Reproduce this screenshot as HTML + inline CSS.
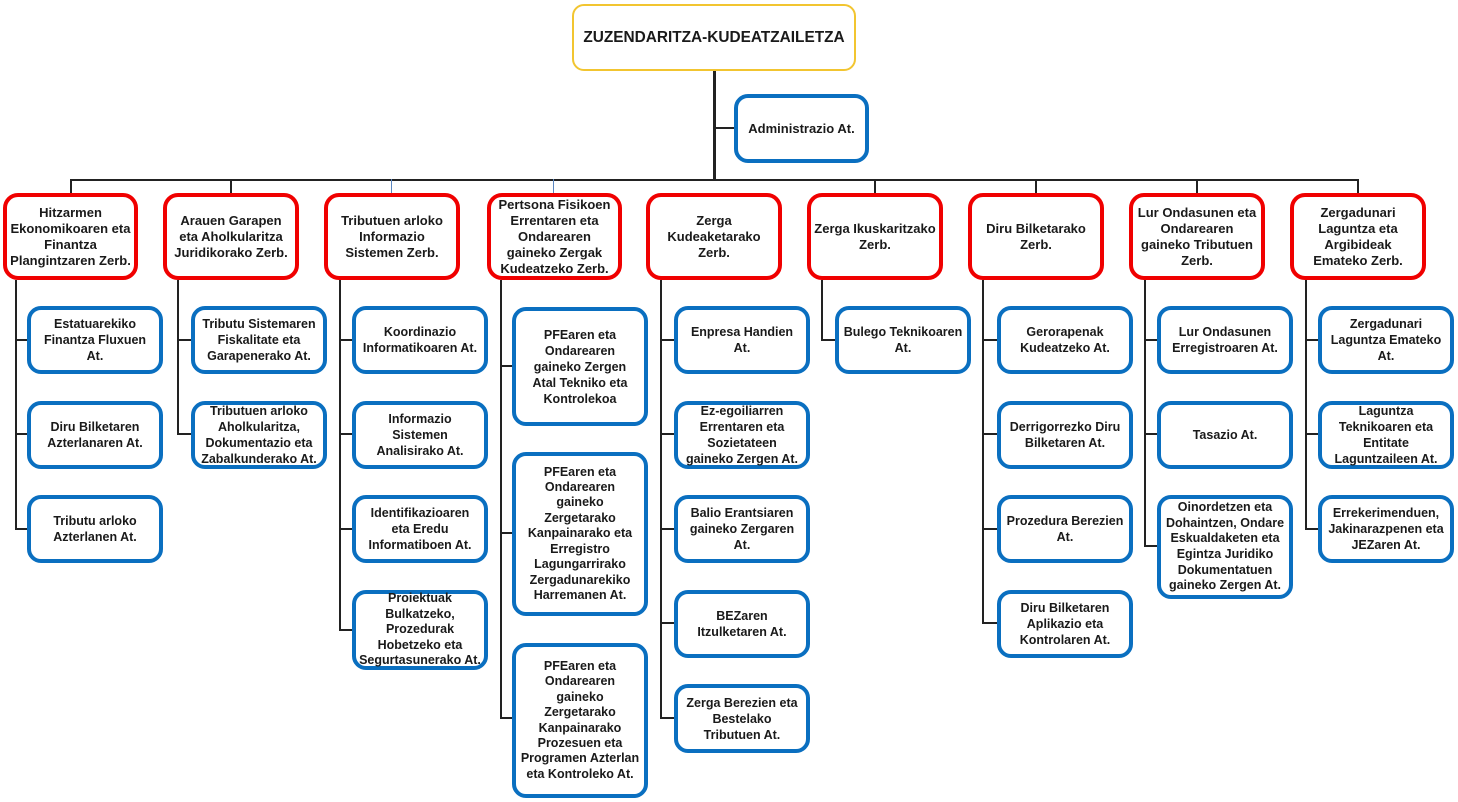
<!DOCTYPE html>
<html><head><meta charset="utf-8">
<style>
html,body{margin:0;padding:0;background:#fff;}
body{width:1458px;height:802px;position:relative;overflow:hidden;font-family:"Liberation Sans",Arial,sans-serif;font-weight:bold;color:#1a1a1a;}
.b{position:absolute;box-sizing:border-box;display:flex;align-items:center;justify-content:center;text-align:center;white-space:nowrap;background:#fff;}
.r{border:4px solid #f00000;border-radius:15px;font-size:13px;line-height:16px;}
.u{border:4px solid #0a6fc0;border-radius:14px;font-size:12.5px;line-height:16px;}
.t{line-height:15.4px;}
.g{border:2px solid #f2c530;border-radius:12px;font-size:15.4px;}
.l{position:absolute;background:#222;}
.lb{position:absolute;background:#5a86c0;}
</style></head><body>

<!-- top connectors -->
<div class="l" style="left:713px;top:71px;width:3px;height:109px;"></div>
<div class="l" style="left:714px;top:127px;width:21px;height:2px;"></div>
<div class="l" style="left:70px;top:179px;width:1289px;height:2px;"></div>
<div class="l" style="left:70px;top:179px;width:2px;height:15px;"></div>
<div class="l" style="left:230px;top:179px;width:2px;height:15px;"></div>
<div class="lb" style="left:391px;top:179px;width:1px;height:15px;"></div>
<div class="lb" style="left:553px;top:179px;width:1px;height:15px;"></div>
<div class="l" style="left:874px;top:179px;width:2px;height:15px;"></div>
<div class="l" style="left:1035px;top:179px;width:2px;height:15px;"></div>
<div class="l" style="left:1196px;top:179px;width:2px;height:15px;"></div>
<div class="l" style="left:1357px;top:179px;width:2px;height:15px;"></div>

<!-- column verticals -->
<div class="l" style="left:15px;top:280px;width:2px;height:250px;"></div>
<div class="l" style="left:177px;top:280px;width:2px;height:155px;"></div>
<div class="l" style="left:339px;top:280px;width:2px;height:351px;"></div>
<div class="l" style="left:500px;top:280px;width:2px;height:439px;"></div>
<div class="l" style="left:660px;top:280px;width:2px;height:439px;"></div>
<div class="l" style="left:821px;top:280px;width:2px;height:61px;"></div>
<div class="l" style="left:982px;top:280px;width:2px;height:344px;"></div>
<div class="l" style="left:1144px;top:280px;width:2px;height:267px;"></div>
<div class="l" style="left:1305px;top:280px;width:2px;height:250px;"></div>

<!-- stubs -->
<div class="l" style="left:15px;top:339px;width:12px;height:2px;"></div>
<div class="l" style="left:15px;top:433px;width:12px;height:2px;"></div>
<div class="l" style="left:15px;top:528px;width:12px;height:2px;"></div>

<div class="l" style="left:177px;top:339px;width:14px;height:2px;"></div>
<div class="l" style="left:177px;top:433px;width:14px;height:2px;"></div>

<div class="l" style="left:339px;top:339px;width:13px;height:2px;"></div>
<div class="l" style="left:339px;top:433px;width:13px;height:2px;"></div>
<div class="l" style="left:339px;top:528px;width:13px;height:2px;"></div>
<div class="l" style="left:339px;top:629px;width:13px;height:2px;"></div>

<div class="l" style="left:500px;top:365px;width:12px;height:2px;"></div>
<div class="l" style="left:500px;top:532px;width:12px;height:2px;"></div>
<div class="l" style="left:500px;top:717px;width:12px;height:2px;"></div>

<div class="l" style="left:660px;top:339px;width:14px;height:2px;"></div>
<div class="l" style="left:660px;top:433px;width:14px;height:2px;"></div>
<div class="l" style="left:660px;top:528px;width:14px;height:2px;"></div>
<div class="l" style="left:660px;top:622px;width:14px;height:2px;"></div>
<div class="l" style="left:660px;top:717px;width:14px;height:2px;"></div>

<div class="l" style="left:821px;top:339px;width:14px;height:2px;"></div>

<div class="l" style="left:982px;top:339px;width:15px;height:2px;"></div>
<div class="l" style="left:982px;top:433px;width:15px;height:2px;"></div>
<div class="l" style="left:982px;top:528px;width:15px;height:2px;"></div>
<div class="l" style="left:982px;top:622px;width:15px;height:2px;"></div>

<div class="l" style="left:1144px;top:339px;width:13px;height:2px;"></div>
<div class="l" style="left:1144px;top:433px;width:13px;height:2px;"></div>
<div class="l" style="left:1144px;top:545px;width:13px;height:2px;"></div>

<div class="l" style="left:1305px;top:339px;width:13px;height:2px;"></div>
<div class="l" style="left:1305px;top:433px;width:13px;height:2px;"></div>
<div class="l" style="left:1305px;top:528px;width:13px;height:2px;"></div>

<!-- top boxes -->
<div class="b g" style="left:572px;top:4px;width:284px;height:67px;">ZUZENDARITZA-KUDEATZAILETZA</div>
<div class="b u" style="left:734px;top:94px;width:135px;height:69px;font-size:13px;">Administrazio At.</div>

<!-- red row -->
<div class="b r" style="left:3px;top:193px;width:135px;height:87px;">Hitzarmen<br>Ekonomikoaren eta<br>Finantza<br>Plangintzaren Zerb.</div>
<div class="b r" style="left:163px;top:193px;width:136px;height:87px;">Arauen Garapen<br>eta Aholkularitza<br>Juridikorako Zerb.</div>
<div class="b r" style="left:324px;top:193px;width:136px;height:87px;">Tributuen arloko<br>Informazio<br>Sistemen Zerb.</div>
<div class="b r" style="left:487px;top:193px;width:135px;height:87px;">Pertsona Fisikoen<br>Errentaren eta<br>Ondarearen<br>gaineko Zergak<br>Kudeatzeko Zerb.</div>
<div class="b r" style="left:646px;top:193px;width:136px;height:87px;">Zerga<br>Kudeaketarako<br>Zerb.</div>
<div class="b r" style="left:807px;top:193px;width:136px;height:87px;">Zerga Ikuskaritzako<br>Zerb.</div>
<div class="b r" style="left:968px;top:193px;width:136px;height:87px;">Diru Bilketarako<br>Zerb.</div>
<div class="b r" style="left:1129px;top:193px;width:136px;height:87px;">Lur Ondasunen eta<br>Ondarearen<br>gaineko Tributuen<br>Zerb.</div>
<div class="b r" style="left:1290px;top:193px;width:136px;height:87px;">Zergadunari<br>Laguntza eta<br>Argibideak<br>Emateko Zerb.</div>

<!-- col 1 -->
<div class="b u" style="left:27px;top:306px;width:136px;height:68px;">Estatuarekiko<br>Finantza Fluxuen<br>At.</div>
<div class="b u" style="left:27px;top:401px;width:136px;height:68px;">Diru Bilketaren<br>Azterlanaren At.</div>
<div class="b u" style="left:27px;top:495px;width:136px;height:68px;">Tributu arloko<br>Azterlanen At.</div>

<!-- col 2 -->
<div class="b u" style="left:191px;top:306px;width:136px;height:68px;">Tributu Sistemaren<br>Fiskalitate eta<br>Garapenerako At.</div>
<div class="b u" style="left:191px;top:401px;width:136px;height:68px;">Tributuen arloko<br>Aholkularitza,<br>Dokumentazio eta<br>Zabalkunderako At.</div>

<!-- col 3 -->
<div class="b u" style="left:352px;top:306px;width:136px;height:68px;">Koordinazio<br>Informatikoaren At.</div>
<div class="b u" style="left:352px;top:401px;width:136px;height:68px;">Informazio<br>Sistemen<br>Analisirako At.</div>
<div class="b u" style="left:352px;top:495px;width:136px;height:68px;">Identifikazioaren<br>eta Eredu<br>Informatiboen At.</div>
<div class="b u" style="left:352px;top:590px;width:136px;height:80px;line-height:15.5px;">Proiektuak<br>Bulkatzeko,<br>Prozedurak<br>Hobetzeko eta<br>Segurtasunerako At.</div>

<!-- col 4 -->
<div class="b u" style="left:512px;top:307px;width:136px;height:119px;">PFEaren eta<br>Ondarearen<br>gaineko Zergen<br>Atal Tekniko eta<br>Kontrolekoa</div>
<div class="b u t" style="left:512px;top:452px;width:136px;height:164px;">PFEaren eta<br>Ondarearen<br>gaineko<br>Zergetarako<br>Kanpainarako eta<br>Erregistro<br>Lagungarrirako<br>Zergadunarekiko<br>Harremanen At.</div>
<div class="b u t" style="left:512px;top:643px;width:136px;height:155px;">PFEaren eta<br>Ondarearen<br>gaineko<br>Zergetarako<br>Kanpainarako<br>Prozesuen eta<br>Programen Azterlan<br>eta Kontroleko At.</div>

<!-- col 5 -->
<div class="b u" style="left:674px;top:306px;width:136px;height:68px;">Enpresa Handien<br>At.</div>
<div class="b u" style="left:674px;top:401px;width:136px;height:68px;">Ez-egoiliarren<br>Errentaren eta<br>Sozietateen<br>gaineko Zergen At.</div>
<div class="b u" style="left:674px;top:495px;width:136px;height:68px;">Balio Erantsiaren<br>gaineko Zergaren<br>At.</div>
<div class="b u" style="left:674px;top:590px;width:136px;height:68px;">BEZaren<br>Itzulketaren At.</div>
<div class="b u" style="left:674px;top:684px;width:136px;height:69px;">Zerga Berezien eta<br>Bestelako<br>Tributuen At.</div>

<!-- col 6 -->
<div class="b u" style="left:835px;top:306px;width:136px;height:68px;">Bulego Teknikoaren<br>At.</div>

<!-- col 7 -->
<div class="b u" style="left:997px;top:306px;width:136px;height:68px;">Gerorapenak<br>Kudeatzeko At.</div>
<div class="b u" style="left:997px;top:401px;width:136px;height:68px;">Derrigorrezko Diru<br>Bilketaren At.</div>
<div class="b u" style="left:997px;top:495px;width:136px;height:68px;">Prozedura Berezien<br>At.</div>
<div class="b u" style="left:997px;top:590px;width:136px;height:68px;">Diru Bilketaren<br>Aplikazio eta<br>Kontrolaren At.</div>

<!-- col 8 -->
<div class="b u" style="left:1157px;top:306px;width:136px;height:68px;">Lur Ondasunen<br>Erregistroaren At.</div>
<div class="b u" style="left:1157px;top:401px;width:136px;height:68px;">Tasazio At.</div>
<div class="b u" style="left:1157px;top:495px;width:136px;height:104px;line-height:15.6px;">Oinordetzen eta<br>Dohaintzen, Ondare<br>Eskualdaketen eta<br>Egintza Juridiko<br>Dokumentatuen<br>gaineko Zergen At.</div>

<!-- col 9 -->
<div class="b u" style="left:1318px;top:306px;width:136px;height:68px;">Zergadunari<br>Laguntza Emateko<br>At.</div>
<div class="b u" style="left:1318px;top:401px;width:136px;height:68px;">Laguntza<br>Teknikoaren eta<br>Entitate<br>Laguntzaileen At.</div>
<div class="b u" style="left:1318px;top:495px;width:136px;height:68px;">Errekerimenduen,<br>Jakinarazpenen eta<br>JEZaren At.</div>

</body></html>
